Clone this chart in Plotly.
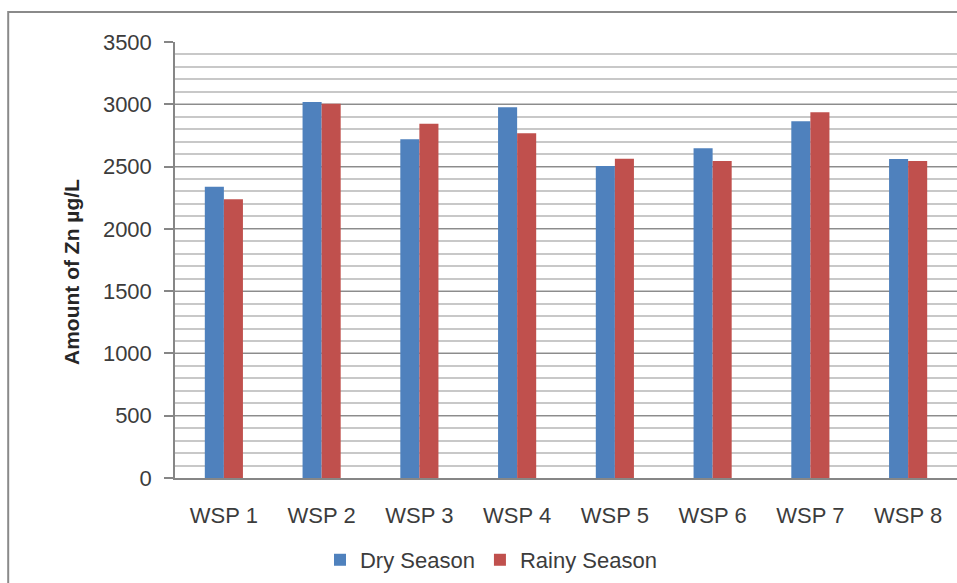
import plotly.graph_objects as go

categories = ["WSP 1", "WSP 2", "WSP 3", "WSP 4", "WSP 5", "WSP 6", "WSP 7", "WSP 8"]
dry_season = [2338, 3018, 2719, 2976, 2505, 2647, 2863, 2561]
rainy_season = [2237, 3005, 2844, 2767, 2563, 2545, 2936, 2545]
y_ticks = [0, 500, 1000, 1500, 2000, 2500, 3000, 3500]

FONT = "Liberation Sans"

fig = go.Figure()
fig.add_trace(go.Bar(name="Dry Season", x=categories, y=dry_season,
                     marker=dict(color="#4F81BD", line=dict(width=0))))
fig.add_trace(go.Bar(name="Rainy Season", x=categories, y=rainy_season,
                     marker=dict(color="#C0504D", line=dict(width=0))))

fig.update_layout(
    width=957, height=583,
    margin=dict(l=175, r=0, t=42, b=105, autoexpand=False),
    paper_bgcolor="white", plot_bgcolor="white",
    barmode="group", bargap=0.61, bargroupgap=0,
    font=dict(family=FONT, size=22, color="#3c3c3c"),
    showlegend=True,
    legend=dict(orientation="h", x=0.1854, xanchor="left", y=-0.188, yanchor="middle",
                font=dict(size=22, color="#3c3c3c"), itemwidth=30,
                traceorder="normal"),
    xaxis=dict(showline=True, linecolor="#868686", linewidth=1.5, automargin=False,
               ticks="", showgrid=False, ticklabelstandoff=17,
               tickfont=dict(size=22, color="#3c3c3c")),
    yaxis=dict(range=[0, 3500], tickvals=y_ticks, showline=True, automargin=False,
               linecolor="#868686", linewidth=1.5,
               ticks="outside", ticklen=9, tickcolor="#868686", tickwidth=1.5,
               ticklabelstandoff=8,
               showgrid=True, gridcolor="#8c8c8c", gridwidth=1.2,
               minor=dict(dtick=100, showgrid=True, gridcolor="#c8c8c8", gridwidth=2, ticks=""),
               tickfont=dict(size=22, color="#3c3c3c"), zeroline=False),
    shapes=[dict(type="rect", xref="paper", yref="paper",
                 x0=-0.2133, x1=1.2, y0=-0.6, y1=1.0688,
                 line=dict(color="#8a8a8a", width=2), fillcolor="rgba(0,0,0,0)",
                 layer="below")],
    annotations=[dict(text="<b>Amount of Zn µg/L</b>", textangle=-90,
                      xref="paper", yref="paper", x=-0.1317, y=0.4725,
                      xanchor="center", yanchor="middle", showarrow=False,
                      font=dict(size=21, color="#262626", family=FONT))],
)

fig.write_html("out.html", config={"displayModeBar": False},
               post_script="document.body.style.margin='0';document.body.style.overflow='hidden';")
